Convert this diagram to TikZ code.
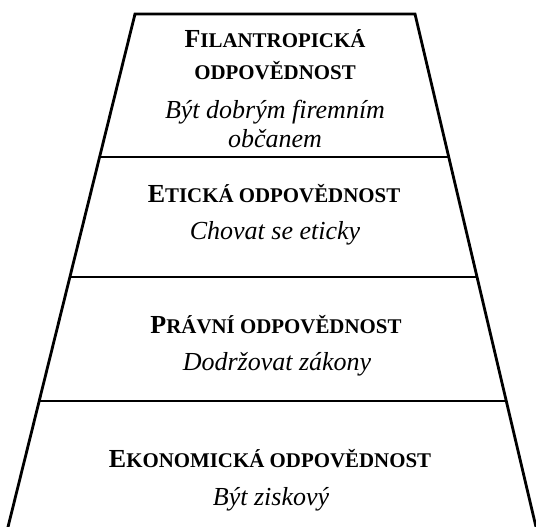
\documentclass[tikz,border=0pt]{standalone}
\usepackage{fontspec}
\setmainfont{Liberation Serif}
\usetikzlibrary{calc}
\newcommand{\smc}[1]{{\fontsize{20.9}{20.9}\selectfont #1}}
\begin{document}
\begin{tikzpicture}[x=1pt,y=-1pt,
  edge/.style={line width=2.8pt,line join=miter},
  head/.style={anchor=base,font=\fontsize{26}{29}\selectfont\bfseries,inner sep=0pt},
  sub/.style={anchor=base,font=\fontsize{26}{29}\selectfont\itshape,inner sep=0pt}]
\useasboundingbox (0,0) rectangle (536,527);
\coordinate (tl) at (135,14);
\coordinate (tr) at (415,14);
\coordinate (bl) at (8,527);
\coordinate (br) at (536,527);
\coordinate (blx) at ($(tl)!1.01!(bl)$);
\coordinate (brx) at ($(tr)!1.01!(br)$);
\draw[edge] (blx) -- (tl) -- (tr) -- (brx);
\draw[edge] ($(tl)!0.2788!(bl)$) -- ($(tr)!0.2788!(br)$);
\draw[edge] ($(tl)!0.5127!(bl)$) -- ($(tr)!0.5127!(br)$);
\draw[edge] ($(tl)!0.7544!(bl)$) -- ($(tr)!0.7544!(br)$);
% block 1
\node[head] (f1) at (275,48) {F\smc{ILANTROPICKÁ}};
\node[head] (f2) at (275,80) {\smc{ODPOVĚDNOST}};
\node[sub] (f3) at (275,118) {Být dobrým firemním};
\node[sub] (f4) at (275,147) {občanem};
% block 2
\node[head] (e1) at (274,202) {E\smc{TICKÁ ODPOVĚDNOST}};
\node[sub] (e2) at (275,239) {Chovat se eticky};
% block 3
\node[head] (p1) at (276,333) {P\smc{RÁVNÍ ODPOVĚDNOST}};
\node[sub] (p2) at (277,370) {Dodržovat zákony};
% block 4
\node[head] (k1) at (270,467) {E\smc{KONOMICKÁ ODPOVĚDNOST}};
\node[sub] (k2) at (271,505) {Být ziskový};
\end{tikzpicture}
\end{document}
